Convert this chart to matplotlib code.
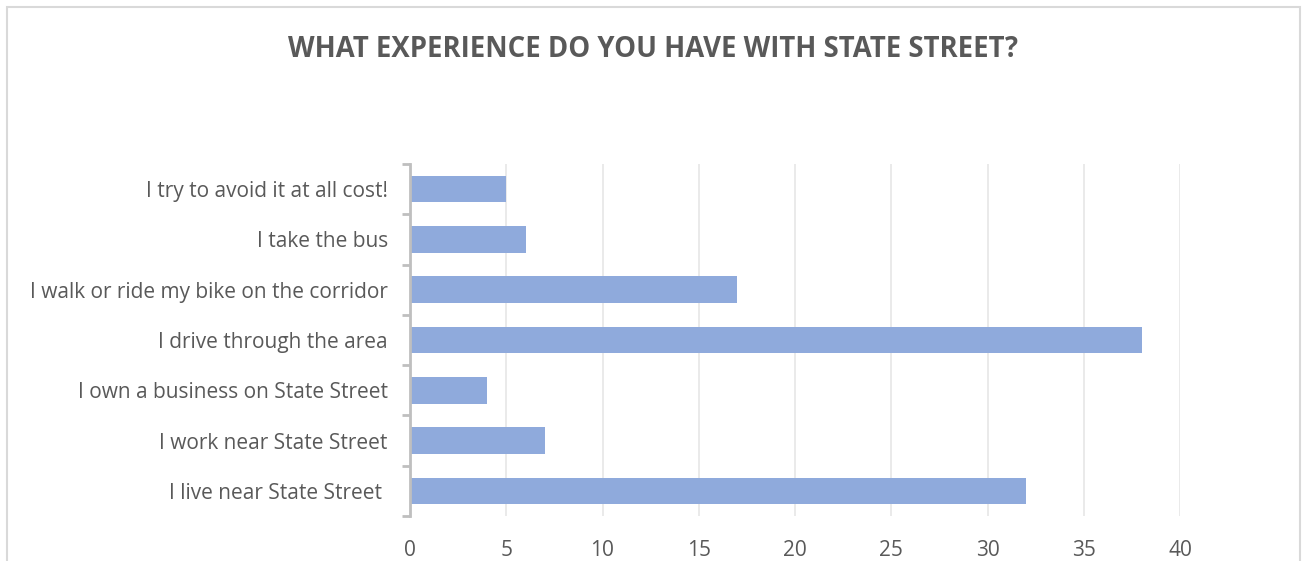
import matplotlib.pyplot as plt
from matplotlib.patches import Rectangle

# respuestas de la encuesta, de arriba hacia abajo
categorias = ["I try to avoid it at all cost!",
              "I take the bus",
              "I walk or ride my bike on the corridor",
              "I drive through the area",
              "I own a business on State Street",
              "I work near State Street",
              "I live near State Street "]
respuestas = [5, 6, 17, 38, 4, 7, 32]
ticks_x = [0, 5, 10, 15, 20, 25, 30, 35, 40]

gris = "#595959"
plt.rcParams['font.family'] = ['Open Sans', 'DejaVu Sans']

fig = plt.figure(figsize=(13.02, 5.61), dpi=100)
ax = fig.add_axes([410/1302, 45/561, 770/1302, 352/561])

pos = list(range(len(categorias)))
ax.barh(pos, respuestas, height=0.53, color="#8FAADC", zorder=3)
ax.set_ylim(len(categorias) - 0.5, -0.5)
ax.set_xlim(0, 40)

ax.set_yticks(pos)
ax.set_yticklabels(categorias, fontsize=15, color=gris)
ax.set_yticks([p - 0.5 for p in pos] + [len(pos) - 0.5], minor=True)
ax.tick_params(axis='y', which='major', length=0, pad=16)
ax.tick_params(axis='y', which='minor', length=6, width=2, color="#BFBFBF")

ax.set_xticks(ticks_x)
ax.set_xticklabels([str(t) for t in ticks_x], fontsize=15, color=gris)
ax.tick_params(axis='x', length=0, pad=17.5)
ax.grid(axis='x', color="#E6E6E6", linewidth=1.2, zorder=0)

for lado in ['top', 'right', 'bottom']:
    ax.spines[lado].set_visible(False)
ax.spines['left'].set_color("#BFBFBF")
ax.spines['left'].set_linewidth(2)
ax.spines['left'].set_zorder(4)

fig.text(653/1302, 1 - 49/561, "WHAT EXPERIENCE DO YOU HAVE WITH STATE STREET?",
         ha='center', va='center', fontsize=19.8, fontweight='bold', color=gris)

# marco del grafico
fig.patches.append(Rectangle((7/1302, -0.1), 1293/1302, 1 - 7/561 + 0.1,
                             transform=fig.transFigure, fill=False,
                             edgecolor="#D9D9D9", linewidth=1.5))

fig.savefig("out.png", dpi=100)
